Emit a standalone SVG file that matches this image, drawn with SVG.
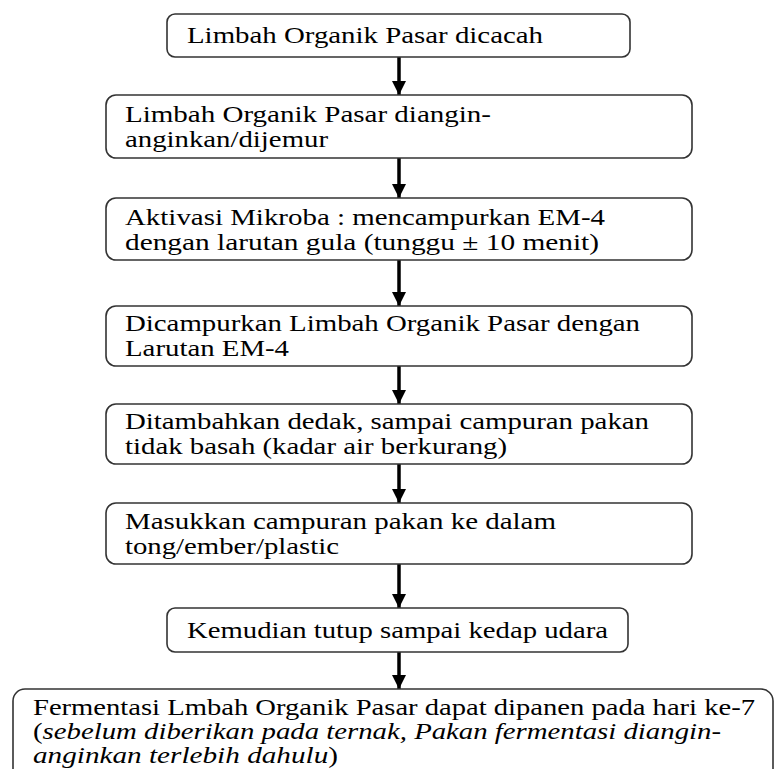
<svg xmlns="http://www.w3.org/2000/svg" width="775" height="769" viewBox="0 0 775 769">
<defs>
<marker id="ah" markerUnits="userSpaceOnUse" markerWidth="14" markerHeight="14" viewBox="0 0 14 14" refX="14" refY="7" orient="auto">
<path d="M0,0 L14,7 L0,14 Z" fill="#000"/>
</marker>
</defs>
<rect width="775" height="769" fill="#fff"/>
<g id="connectors" stroke="#000" stroke-width="3.5" fill="none">
<line x1="399" y1="57" x2="399" y2="95" marker-end="url(#ah)"/>
<line x1="399" y1="158" x2="399" y2="198" marker-end="url(#ah)"/>
<line x1="399" y1="260" x2="399" y2="306" marker-end="url(#ah)"/>
<line x1="399" y1="366" x2="399" y2="404" marker-end="url(#ah)"/>
<line x1="399" y1="464" x2="399" y2="503" marker-end="url(#ah)"/>
<line x1="399" y1="564" x2="399" y2="608" marker-end="url(#ah)"/>
<line x1="399" y1="652" x2="399" y2="689" marker-end="url(#ah)"/>
</g>
<g id="n1">
<rect x="167" y="14" width="463" height="43" rx="8" fill="#fff" stroke="#333" stroke-width="1.6"/>
<text x="187" y="43" font-family="Liberation Serif" font-size="24" textLength="356" lengthAdjust="spacingAndGlyphs">Limbah Organik Pasar dicacah</text>
</g>
<g id="n2">
<rect x="106" y="95" width="586" height="63" rx="10" fill="#fff" stroke="#333" stroke-width="1.6"/>
<text x="125" y="122" font-family="Liberation Serif" font-size="24" textLength="366" lengthAdjust="spacingAndGlyphs">Limbah Organik Pasar diangin-</text>
<text x="125" y="147" font-family="Liberation Serif" font-size="24" textLength="203" lengthAdjust="spacingAndGlyphs">anginkan/dijemur</text>
</g>
<g id="n3">
<rect x="106" y="198" width="586" height="62" rx="10" fill="#fff" stroke="#333" stroke-width="1.6"/>
<text x="125" y="225" font-family="Liberation Serif" font-size="24" textLength="480" lengthAdjust="spacingAndGlyphs">Aktivasi Mikroba : mencampurkan EM-4</text>
<text x="125" y="250" font-family="Liberation Serif" font-size="24" textLength="474" lengthAdjust="spacingAndGlyphs">dengan larutan gula (tunggu ± 10 menit)</text>
</g>
<g id="n4">
<rect x="106" y="306" width="586" height="60" rx="10" fill="#fff" stroke="#333" stroke-width="1.6"/>
<text x="125" y="331" font-family="Liberation Serif" font-size="24" textLength="515" lengthAdjust="spacingAndGlyphs">Dicampurkan Limbah Organik Pasar dengan</text>
<text x="125" y="356" font-family="Liberation Serif" font-size="24" textLength="164" lengthAdjust="spacingAndGlyphs">Larutan EM-4</text>
</g>
<g id="n5">
<rect x="106" y="404" width="586" height="60" rx="10" fill="#fff" stroke="#333" stroke-width="1.6"/>
<text x="125" y="429" font-family="Liberation Serif" font-size="24" textLength="524" lengthAdjust="spacingAndGlyphs">Ditambahkan dedak, sampai campuran pakan</text>
<text x="125" y="454" font-family="Liberation Serif" font-size="24" textLength="382" lengthAdjust="spacingAndGlyphs">tidak basah (kadar air berkurang)</text>
</g>
<g id="n6">
<rect x="106" y="503" width="586" height="61" rx="10" fill="#fff" stroke="#333" stroke-width="1.6"/>
<text x="125" y="529" font-family="Liberation Serif" font-size="24" textLength="431" lengthAdjust="spacingAndGlyphs">Masukkan campuran pakan ke dalam</text>
<text x="125" y="554" font-family="Liberation Serif" font-size="24" textLength="214" lengthAdjust="spacingAndGlyphs">tong/ember/plastic</text>
</g>
<g id="n7">
<rect x="167" y="608" width="461" height="44" rx="8" fill="#fff" stroke="#333" stroke-width="1.6"/>
<text x="187" y="638" font-family="Liberation Serif" font-size="24" textLength="421" lengthAdjust="spacingAndGlyphs">Kemudian tutup sampai kedap udara</text>
</g>
<g id="n8">
<rect x="13" y="689" width="760" height="110" rx="12" fill="#fff" stroke="#333" stroke-width="1.6"/>
<text x="33" y="715" font-family="Liberation Serif" font-size="24" textLength="722" lengthAdjust="spacingAndGlyphs">Fermentasi Lmbah Organik Pasar dapat dipanen pada hari ke-7</text>
<text x="33" y="739" font-family="Liberation Serif" font-size="24" textLength="688" lengthAdjust="spacingAndGlyphs">(<tspan font-style="italic">sebelum diberikan pada ternak, Pakan fermentasi diangin-</tspan></text>
<text x="33" y="763" font-family="Liberation Serif" font-size="24" textLength="305" lengthAdjust="spacingAndGlyphs"><tspan font-style="italic">anginkan terlebih dahulu</tspan>)</text>
</g>
</svg>
